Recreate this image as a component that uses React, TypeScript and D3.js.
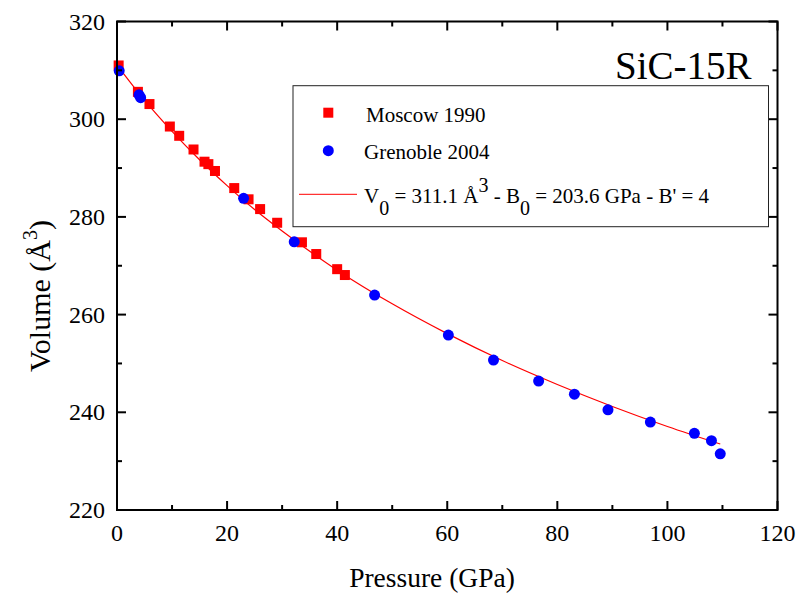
import React from "react";
import * as d3 from "d3";

const moscowP = [0.3, 3.8, 5.9, 9.6, 11.3, 13.9, 15.9, 16.6, 17.8, 21.3, 23.9, 26.0, 29.1, 33.6, 36.2, 40.0, 41.4];
const moscowV = [311.0, 305.6, 303.1, 298.5, 296.6, 293.8, 291.3, 290.8, 289.4, 285.9, 283.6, 281.6, 278.8, 274.8, 272.4, 269.3, 268.1];

const grenobleP = [0.4, 4.0, 4.3, 23.0, 32.2, 46.8, 60.2, 68.4, 76.6, 83.1, 89.2, 96.9, 104.9, 108.0, 109.6];
const grenobleV = [309.9, 305.0, 304.4, 283.8, 274.9, 264.0, 255.8, 250.7, 246.4, 243.7, 240.5, 238.0, 235.7, 234.2, 231.5];

const fitP = [0, 5, 10, 15, 20, 25, 30, 40, 50, 60, 70, 80, 90, 100, 109.6];
const fitV = [311.1, 303.9, 297.5, 291.7, 286.4, 281.5, 277.1, 269.1, 262.2, 256.1, 250.6, 245.7, 241.2, 237.1, 233.5];

const xTicks = [0, 20, 40, 60, 80, 100, 120];
const xMinor = [10, 30, 50, 70, 90, 110];
const yTicks = [220, 240, 260, 280, 300, 320];
const yMinor = [230, 250, 270, 290, 310];

const FONT = "Liberation Serif, Times New Roman, serif";

export default function App() {
  const left = 117, right = 777.5, top = 21.5, bottom = 510;
  const x = d3.scaleLinear().domain([0, 120]).range([left, right]);
  const y = d3.scaleLinear().domain([220, 320]).range([bottom, top]);

  const line = d3
    .line<number>()
    .x((_, i) => x(fitP[i]))
    .y((d) => y(d))
    .curve(d3.curveMonotoneX);

  const major = 9;
  const minor = 5;

  return (
    <svg width={811} height={598} style={{ position: "absolute", left: 0, top: 0, background: "#fff", fontFamily: FONT }}>
      <rect x={0} y={0} width={811} height={598} fill="#fff" />
      <path d={line(fitV) || ""} fill="none" stroke="#ff0000" strokeWidth={1.2} />
      {moscowP.map((p, i) => (
        <rect key={"m" + i} x={x(p) - 5} y={y(moscowV[i]) - 5} width={10} height={10} fill="#ff0000" />
      ))}
      {grenobleP.map((p, i) => (
        <circle key={"g" + i} cx={x(p)} cy={y(grenobleV[i])} r={5.5} fill="#0000ff" />
      ))}

      <rect x={left} y={top} width={right - left} height={bottom - top} fill="none" stroke="#000" strokeWidth={2} />
      {xTicks.map((t) => (
        <g key={"xt" + t}>
          <line x1={x(t)} x2={x(t)} y1={bottom} y2={bottom - major} stroke="#000" strokeWidth={2} />
          <line x1={x(t)} x2={x(t)} y1={top} y2={top + major} stroke="#000" strokeWidth={2} />
          <text x={x(t)} y={541} textAnchor="middle" fontSize={24}>{t}</text>
        </g>
      ))}
      {xMinor.map((t) => (
        <g key={"xm" + t}>
          <line x1={x(t)} x2={x(t)} y1={bottom} y2={bottom - minor} stroke="#000" strokeWidth={2} />
          <line x1={x(t)} x2={x(t)} y1={top} y2={top + minor} stroke="#000" strokeWidth={2} />
        </g>
      ))}
      {yTicks.map((t) => (
        <g key={"yt" + t}>
          <line x1={left} x2={left + major} y1={y(t)} y2={y(t)} stroke="#000" strokeWidth={2} />
          <line x1={right} x2={right - major} y1={y(t)} y2={y(t)} stroke="#000" strokeWidth={2} />
          <text x={105} y={y(t) + 8} textAnchor="end" fontSize={24}>{t}</text>
        </g>
      ))}
      {yMinor.map((t) => (
        <g key={"ym" + t}>
          <line x1={left} x2={left + minor} y1={y(t)} y2={y(t)} stroke="#000" strokeWidth={2} />
          <line x1={right} x2={right - minor} y1={y(t)} y2={y(t)} stroke="#000" strokeWidth={2} />
        </g>
      ))}

      <text x={432} y={587} textAnchor="middle" fontSize={27.5}>Pressure (GPa)</text>
      <text transform="translate(50,372) rotate(-90)" textAnchor="start" fontSize={30}>
        Volume (Å<tspan dy={-13} fontSize={20}>3</tspan><tspan dy={13}>)</tspan>
      </text>

      <text x={615} y={79} fontSize={39}>SiC-15R</text>

      <rect x={293} y={85.7} width={475.5} height={141} fill="#fff" stroke="#222" strokeWidth={1} />
      <rect x={323.3} y={107.7} width={10} height={10} fill="#ff0000" />
      <text x={366} y={121.5} fontSize={21}>Moscow 1990</text>
      <circle cx={328.3} cy={150.7} r={5.5} fill="#0000ff" />
      <text x={364} y={159.3} fontSize={21}>Grenoble 2004</text>
      <line x1={299} x2={357} y1={194.3} y2={194.3} stroke="#ff0000" strokeWidth={1} />
      <text x={364} y={202.5} fontSize={21}>
        V<tspan dy={12} fontSize={20}>0</tspan>
        <tspan dy={-12}> = 311.1 Å</tspan>
        <tspan dy={-11} fontSize={20}>3</tspan>
        <tspan dy={11}> - B</tspan>
        <tspan dy={12} fontSize={20}>0</tspan>
        <tspan dy={-12}> = 203.6 GPa - B' = 4</tspan>
      </text>
    </svg>
  );
}
